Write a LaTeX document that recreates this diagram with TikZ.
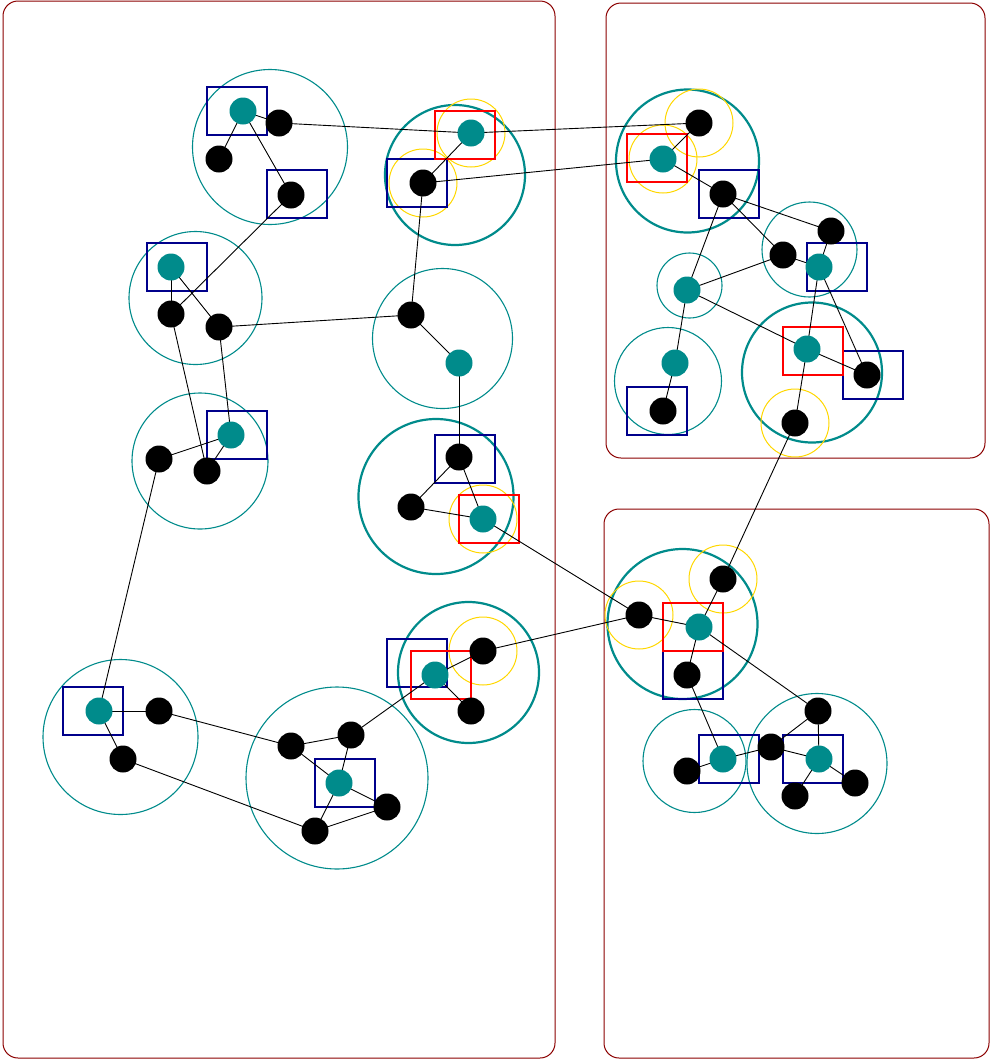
\documentclass[tikz,border=0pt]{standalone}
\usetikzlibrary{positioning}
\definecolor{myteal}{RGB}{0,139,139}
\definecolor{myblue}{RGB}{0,0,139}
\definecolor{mygold}{RGB}{255,215,0}
\definecolor{myframe}{RGB}{139,0,0}
\tikzset{
  blackdot/.style={circle, fill=black, minimum size=27, inner sep=0},
  tealdot/.style={circle, fill=myteal, minimum size=27, inner sep=0},
  ring/.style={circle, draw=myteal, line width=1.1pt, inner sep=0},
  thickring/.style={circle, draw=myteal, line width=2.2pt, inner sep=0},
  halo/.style={circle, draw=mygold, line width=1pt, minimum size=68, inner sep=0},
  bluebox/.style={rectangle, draw=myblue, line width=1.4pt, minimum width=60, minimum height=48, inner sep=0},
  redbox/.style={rectangle, draw=red, line width=1.4pt, minimum width=60, minimum height=48, inner sep=0},
  link/.style={draw=black, line width=0.9pt}
}

\begin{document}
\begin{tikzpicture}[x=1pt, y=-1pt]
\useasboundingbox (0,0) rectangle (990,1061);

% Frames
\draw[myframe, line width=1pt, rounded corners=15] (3,1) rectangle (555,1058);
\draw[myframe, line width=1pt, rounded corners=15] (606,3) rectangle (985,458);
\draw[myframe, line width=1pt, rounded corners=15] (604,509) rectangle (989,1058);

% Positions, left panel
\coordinate (a1) at (243,111);
\coordinate (a2) at (279,123);
\coordinate (a3) at (219,159);
\coordinate (a4) at (291,195);
\coordinate (b1) at (471,133);
\coordinate (b2) at (423,183);
\coordinate (c1) at (171,267);
\coordinate (c2) at (171,314);
\coordinate (c3) at (219,327);
\coordinate (d1) at (411,315);
\coordinate (d2) at (459,363);
\coordinate (e1) at (231,435);
\coordinate (e2) at (159,459);
\coordinate (e3) at (207,471);
\coordinate (f1) at (459,457);
\coordinate (f2) at (411,507);
\coordinate (f3) at (483,519);
\coordinate (g1) at (99,711);
\coordinate (g2) at (159,711);
\coordinate (g3) at (123,759);
\coordinate (h1) at (291,746);
\coordinate (h2) at (351,735);
\coordinate (h3) at (339,783);
\coordinate (h4) at (315,831);
\coordinate (h5) at (387,807);
\coordinate (i1) at (435,675);
\coordinate (i2) at (483,651);
\coordinate (i3) at (471,711);

% Positions, top right panel
\coordinate (j1) at (699,123);
\coordinate (j2) at (663,159);
\coordinate (j3) at (723,194);
\coordinate (k1) at (831,231);
\coordinate (k2) at (783,255);
\coordinate (k3) at (819,267);
\coordinate (l1) at (687,290);
\coordinate (n1) at (675,363);
\coordinate (n2) at (663,411);
\coordinate (m1) at (807,349);
\coordinate (m2) at (867,375);
\coordinate (m3) at (795,423);

% Positions, bottom right panel
\coordinate (p1) at (723,579);
\coordinate (p2) at (639,615);
\coordinate (p3) at (699,627);
\coordinate (p4) at (687,675);
\coordinate (r1) at (723,759);
\coordinate (r2) at (687,771);
\coordinate (q1) at (818,711);
\coordinate (q2) at (771,747);
\coordinate (q3) at (819,759);
\coordinate (q4) at (795,796);
\coordinate (q5) at (855,783);

% Rings
\node[ring, minimum size=155] (ringA) at (270,147) {};
\node[thickring, minimum size=140] (ringB) at (455,175) {};
\node[ring, minimum size=133] (ringC) at (195.5,298) {};
\node[ring, minimum size=140] (ringD) at (442.5,338.5) {};
\node[ring, minimum size=136] (ringE) at (200,461) {};
\node[thickring, minimum size=155] (ringF) at (436,496.5) {};
\node[ring, minimum size=155] (ringG) at (120.5,737) {};
\node[ring, minimum size=182] (ringH) at (337,778) {};
\node[thickring, minimum size=141] (ringI) at (468.5,672.5) {};
\node[thickring, minimum size=143] (ringJ) at (687.5,161) {};
\node[ring, minimum size=95] (ringK) at (809.5,249.5) {};
\node[ring, minimum size=65] (ringL) at (689.5,285.5) {};
\node[ring, minimum size=107] (ringN) at (668,381) {};
\node[thickring, minimum size=140] (ringM) at (812,372.5) {};
\node[thickring, minimum size=150] (ringP) at (682.5,624) {};
\node[ring, minimum size=103] (ringR) at (694.5,761) {};
\node[ring, minimum size=140] (ringQ) at (817,763.5) {};

% Halos
\node[halo] (haloB1) at (b1) {};
\node[halo] (haloB2) at (b2) {};
\node[halo] (haloF3) at (f3) {};
\node[halo] (haloI2) at (i2) {};
\node[halo] (haloJ1) at (j1) {};
\node[halo] (haloJ2) at (j2) {};
\node[halo] (haloM3) at (m3) {};
\node[halo] (haloP1) at (p1) {};
\node[halo] (haloP2) at (p2) {};

% Boxes
\node[bluebox] (boxA1) at (237,111) {};
\node[bluebox] (boxA4) at (297,194) {};
\node[bluebox] (boxB2) at (417,183) {};
\node[bluebox] (boxC1) at (177,267) {};
\node[bluebox] (boxE1) at (237,435) {};
\node[bluebox] (boxF1) at (465,459) {};
\node[bluebox] (boxG1) at (93,711) {};
\node[bluebox] (boxH3) at (345,783) {};
\node[bluebox] (boxI1) at (417,663) {};
\node[bluebox] (boxJ3) at (729,194) {};
\node[bluebox] (boxK3) at (837,267) {};
\node[bluebox] (boxN2) at (657,411) {};
\node[bluebox] (boxM2) at (873,375) {};
\node[bluebox] (boxP4) at (693,675) {};
\node[bluebox] (boxR1) at (729,759) {};
\node[bluebox] (boxQ3) at (813,759) {};
\node[redbox] (redB1) at (465,135) {};
\node[redbox] (redF3) at (489,519) {};
\node[redbox] (redI1) at (441,675) {};
\node[redbox] (redJ2) at (657,158) {};
\node[redbox] (redM1) at (813,351) {};
\node[redbox] (redP3) at (693,627) {};

% Links
\draw[link] (a1) -- (a2);
\draw[link] (a1) -- (a3);
\draw[link] (a1) -- (a4);
\draw[link] (a2) -- (b1);
\draw[link] (a4) -- (c2);
\draw[link] (b1) -- (b2);
\draw[link] (b1) -- (j1);
\draw[link] (b2) -- (j2);
\draw[link] (b2) -- (d1);
\draw[link] (c1) -- (c2);
\draw[link] (c1) -- (c3);
\draw[link] (c2) -- (e3);
\draw[link] (c3) -- (d1);
\draw[link] (c3) -- (e1);
\draw[link] (d1) -- (d2);
\draw[link] (d2) -- (f1);
\draw[link] (e1) -- (e2);
\draw[link] (e1) -- (e3);
\draw[link] (e2) -- (g1);
\draw[link] (f1) -- (f2);
\draw[link] (f1) -- (f3);
\draw[link] (f2) -- (f3);
\draw[link] (f3) -- (p2);
\draw[link] (g1) -- (g2);
\draw[link] (g1) -- (g3);
\draw[link] (g2) -- (h1);
\draw[link] (g3) -- (h4);
\draw[link] (h1) -- (h2);
\draw[link] (h1) -- (h3);
\draw[link] (h2) -- (h3);
\draw[link] (h3) -- (h4);
\draw[link] (h3) -- (h5);
\draw[link] (h4) -- (h5);
\draw[link] (h2) -- (i1);
\draw[link] (i1) -- (i2);
\draw[link] (i1) -- (i3);
\draw[link] (i2) -- (p2);
\draw[link] (j1) -- (j2);
\draw[link] (j2) -- (j3);
\draw[link] (j3) -- (k1);
\draw[link] (j3) -- (k2);
\draw[link] (j3) -- (l1);
\draw[link] (k1) -- (k3);
\draw[link] (k2) -- (k3);
\draw[link] (k2) -- (l1);
\draw[link] (k3) -- (m1);
\draw[link] (k3) -- (m2);
\draw[link] (l1) -- (m1);
\draw[link] (l1) -- (n1);
\draw[link] (n1) -- (n2);
\draw[link] (m1) -- (m2);
\draw[link] (m1) -- (m3);
\draw[link] (m3) -- (p1);
\draw[link] (p1) -- (p3);
\draw[link] (p2) -- (p3);
\draw[link] (p3) -- (p4);
\draw[link] (p3) -- (q1);
\draw[link] (p4) -- (r1);
\draw[link] (r1) -- (r2);
\draw[link] (r1) -- (q2);
\draw[link] (q1) -- (q2);
\draw[link] (q1) -- (q3);
\draw[link] (q2) -- (q3);
\draw[link] (q3) -- (q4);
\draw[link] (q3) -- (q5);

% Dots
\foreach \p in {a2,a3,a4,b2,c2,c3,d1,e2,e3,f1,f2,g2,g3,h1,h2,h4,h5,i2,i3,
                j1,j3,k1,k2,n2,m2,m3,p1,p2,p4,r2,q1,q2,q4,q5}
  \node[blackdot] (dot-\p) at (\p) {};
\foreach \p in {a1,b1,c1,d2,e1,f3,g1,h3,i1,j2,k3,l1,n1,m1,p3,r1,q3}
  \node[tealdot] (dot-\p) at (\p) {};

\end{tikzpicture}
\end{document}
